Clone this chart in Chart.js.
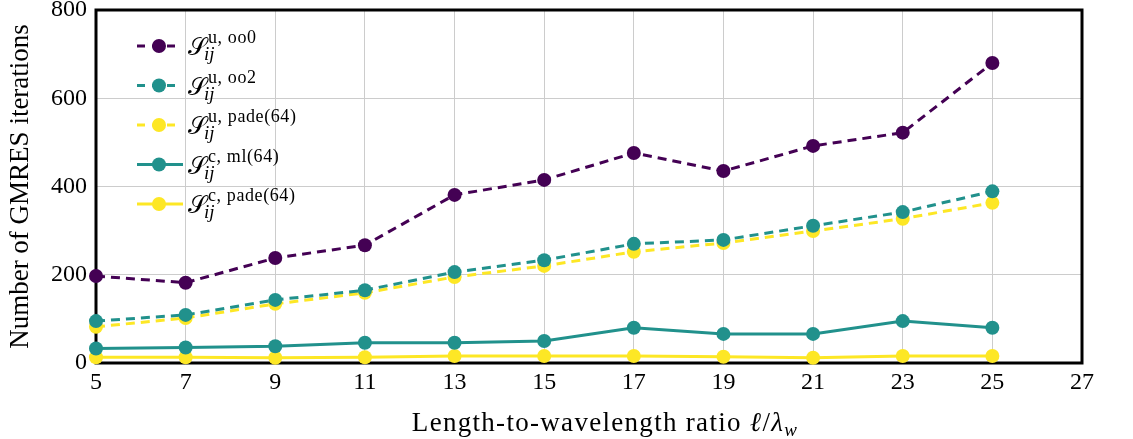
<!DOCTYPE html>
<html>
<head>
<meta charset="utf-8">
<script src="https://cdn.jsdelivr.net/npm/chart.js@4.4.1/dist/chart.umd.min.js"></script>
<style>
  html, body { margin: 0; padding: 0; background: #fff; }
  #wrap { width: 1133px; height: 439px; position: relative; }
</style>
</head>
<body>
<div id="wrap"><canvas id="iters"></canvas></div>
<script>
// length-to-wavelength ratios (x) and GMRES iteration counts per preconditioner
const ratios = [5, 7, 9, 11, 13, 15, 17, 19, 21, 23, 25];
const itersUoo0 = [197, 182, 238, 267, 381, 415, 476, 435, 492, 522, 680];
const itersUoo2 = [95, 109, 143, 165, 206, 233, 270, 279, 311, 342, 389];
const itersUpade = [82, 102, 134, 159, 195, 220, 252, 272, 299, 327, 363];
const itersCml = [33, 35, 38, 46, 46, 50, 80, 66, 66, 95, 80];
const itersCpade = [13, 13, 12, 13, 16, 16, 16, 14, 12, 16, 16];

const xTicks = [5, 7, 9, 11, 13, 15, 17, 19, 21, 23, 25, 27];
const yTicks = [0, 200, 400, 600, 800];

const PURPLE = '#440154';
const TEAL = '#21918c';
const YELLOW = '#fde725';
const SERIF = '"Liberation Serif", "DejaVu Serif", serif';

function series(label, values, color, dashed) {
  return {
    label: label,
    data: ratios.map((r, i) => ({ x: r, y: values[i] })),
    borderColor: color,
    backgroundColor: color,
    borderWidth: 3,
    borderDash: dashed ? [9, 6] : [],
    pointRadius: 7,
    pointHoverRadius: 7,
    pointBorderWidth: 0,
    tension: 0,
    clip: false
  };
}

// black frame around the plot area, under the marks
const frame = {
  id: 'frame',
  beforeDatasetsDraw(chart) {
    const a = chart.chartArea;
    const ctx = chart.ctx;
    ctx.save();
    ctx.strokeStyle = '#000';
    ctx.lineWidth = 3;
    ctx.strokeRect(a.left, a.top, a.right - a.left, a.bottom - a.top);
    ctx.restore();
  }
};

// legend with S^{label}_{ij} entries
const mathLegend = {
  id: 'mathLegend',
  afterDatasetsDraw(chart) {
    const ctx = chart.ctx;
    ctx.save();
    chart.data.datasets.forEach((ds, i) => {
      const y = 46 + i * 39.5;
      const dashed = ds.borderDash.length > 0;
      ctx.strokeStyle = ds.borderColor;
      ctx.lineWidth = 3;
      ctx.setLineDash(dashed ? [8, 7] : []);
      ctx.beginPath();
      ctx.moveTo(137, y);
      ctx.lineTo(dashed ? 181 : 183, y);
      ctx.stroke();
      ctx.setLineDash([]);
      ctx.fillStyle = ds.backgroundColor;
      ctx.beginPath();
      ctx.arc(159, y, 7, 0, Math.PI * 2);
      ctx.fill();

      ctx.fillStyle = '#000';
      ctx.textBaseline = 'alphabetic';
      ctx.textAlign = 'left';
      ctx.font = '24px ' + SERIF;
      const sx = 188;
      ctx.fillText('𝒮', sx, y + 9);
      const sw = ctx.measureText('𝒮').width;
      ctx.font = '18px ' + SERIF;
      ctx.letterSpacing = '0.6px';
      ctx.fillText(ds.label, sx + sw + 1, y - 3);
      ctx.letterSpacing = '0px';
      ctx.font = 'italic 19px ' + SERIF;
      ctx.fillText('ij', sx + sw - 3, y + 14);
    });
    ctx.restore();
  }
};

// x axis title with subscript
const xTitle = {
  id: 'xTitle',
  afterDraw(chart) {
    const ctx = chart.ctx;
    const a = chart.chartArea;
    ctx.save();
    ctx.fillStyle = '#000';
    ctx.textBaseline = 'alphabetic';
    ctx.textAlign = 'left';
    ctx.letterSpacing = '1.3px';
    const parts = [
      ['27px ' + SERIF, 'Length-to-wavelength ratio ', 0],
      ['italic 27px ' + SERIF, 'ℓ', 0],
      ['27px ' + SERIF, '/', 0],
      ['italic 27px ' + SERIF, 'λ', 0],
      ['italic 19px ' + SERIF, 'w', 5]
    ];
    let total = 0;
    parts.forEach(p => { ctx.font = p[0]; total += ctx.measureText(p[1]).width; });
    let x = (a.left + a.right) / 2 + 16 - total / 2;
    const base = 431;
    parts.forEach(p => {
      ctx.font = p[0];
      ctx.fillText(p[1], x, base + p[2]);
      x += ctx.measureText(p[1]).width;
    });
    ctx.restore();
  }
};

new Chart(document.getElementById('iters'), {
  type: 'line',
  data: {
    datasets: [
      series('u, oo0', itersUoo0, PURPLE, true),
      series('u, oo2', itersUoo2, TEAL, true),
      series('u, pade(64)', itersUpade, YELLOW, true),
      series('c, ml(64)', itersCml, TEAL, false),
      series('c, pade(64)', itersCpade, YELLOW, false)
    ]
  },
  options: {
    responsive: true,
    maintainAspectRatio: false,
    animation: false,
    layout: { padding: { top: 0, right: 51, bottom: 0, left: 0 } },
    plugins: {
      legend: { display: false },
      tooltip: { enabled: false }
    },
    scales: {
      x: {
        type: 'linear',
        min: 5,
        max: 27,
        afterBuildTicks(scale) { scale.ticks = xTicks.map(v => ({ value: v })); },
        afterFit(scale) { scale.height = 76; },
        ticks: {
          color: '#000',
          font: { family: SERIF, size: 24 },
          padding: 5,
          maxRotation: 0
        },
        grid: { color: '#cccccc', lineWidth: 1, drawTicks: false },
        border: { display: false }
      },
      y: {
        min: 0,
        max: 800,
        afterBuildTicks(scale) { scale.ticks = yTicks.map(v => ({ value: v })); },
        afterFit(scale) {
          scale.width = 96;
          scale.paddingTop = 10;
          scale.paddingBottom = 0;
        },
        ticks: {
          color: '#000',
          font: { family: SERIF, size: 24 },
          padding: 9
        },
        grid: { color: '#cccccc', lineWidth: 1, drawTicks: false },
        border: { display: false },
        title: {
          display: true,
          text: 'Number of GMRES iterations',
          color: '#000',
          font: { family: SERIF, size: 27 },
          padding: { top: 5, bottom: 0 }
        }
      }
    }
  },
  plugins: [frame, mathLegend, xTitle]
});
</script>
</body>
</html>
